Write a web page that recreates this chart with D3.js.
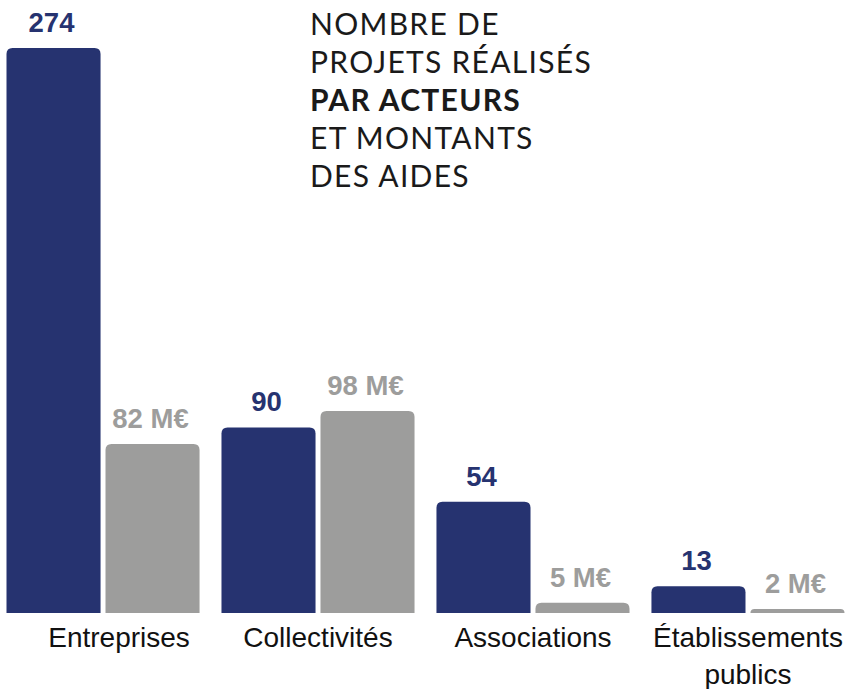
<!DOCTYPE html>
<html>
<head>
<meta charset="utf-8">
<script src="https://cdn.jsdelivr.net/npm/d3@7"></script>
<style>
  body { margin: 0; background: #fff; }
  svg { display: block; }
</style>
</head>
<body>
<div id="chart"></div>
<script>
const categories = ["Entreprises", "Collectivités", "Associations", "Établissements\npublics"];
const projets = [274, 90, 54, 13];
const montants = [82, 98, 5, 2];
const titleLines = [
  { text: "NOMBRE DE", bold: false },
  { text: "PROJETS RÉALISÉS", bold: false },
  { text: "PAR ACTEURS", bold: true },
  { text: "ET MONTANTS", bold: false },
  { text: "DES AIDES", bold: false }
];

const width = 846, height = 689;
const navy = "#263370", grey = "#9d9d9c";
const baseY = 613, topY = 48;

const svg = d3.select("#chart").append("svg")
  .attr("width", width).attr("height", height);

const x = d3.scaleBand().domain(categories).range([6.5, 844.5]).paddingInner(0.102);
const xs = d3.scaleBand().domain(["projets", "montants"]).range([0, x.bandwidth()]).paddingInner(0.05);
const y = d3.scaleLinear().domain([0, d3.max(projets)]).range([baseY, topY]);

const rows = [];
categories.forEach((c, i) => {
  rows.push({ cat: c, key: "projets", v: projets[i], label: String(projets[i]), color: navy });
  rows.push({ cat: c, key: "montants", v: montants[i], label: montants[i] + " M€", color: grey });
});

function topRounded(x0, y0, w, h, r) {
  r = Math.min(r, h, w / 2);
  return `M${x0},${y0 + h}V${y0 + r}Q${x0},${y0} ${x0 + r},${y0}H${x0 + w - r}Q${x0 + w},${y0} ${x0 + w},${y0 + r}V${y0 + h}Z`;
}

svg.append("g").selectAll("path")
  .data(rows)
  .join("path")
  .attr("fill", d => d.color)
  .attr("d", d => topRounded(x(d.cat) + xs(d.key), y(d.v), xs.bandwidth(), baseY - y(d.v), 6));

svg.append("g").selectAll("text")
  .data(rows)
  .join("text")
  .attr("x", d => x(d.cat) + xs(d.key) + xs.bandwidth() / 2 - 2)
  .attr("y", d => y(d.v) - 16)
  .attr("text-anchor", "middle")
  .attr("font-family", "Liberation Sans, Arial, sans-serif")
  .attr("font-weight", "bold")
  .attr("font-size", 27.5)
  .attr("fill", d => d.color)
  .text(d => d.label);

// category labels (the first one sits a bit right of its group in the original)
const labelShift = [16, 0, 0, 0];
const cat = svg.append("g").selectAll("text")
  .data(categories)
  .join("text")
  .attr("x", (d, i) => x(d) + x.bandwidth() / 2 + labelShift[i])
  .attr("y", 647)
  .attr("text-anchor", "middle")
  .attr("font-family", "Liberation Sans, Arial, sans-serif")
  .attr("font-size", 28)
  .attr("fill", "#111");
cat.selectAll("tspan")
  .data(d => d.split("\n"))
  .join("tspan")
  .attr("x", function() { return this.parentNode.getAttribute("x"); })
  .attr("dy", (d, i) => i ? 37 : 0)
  .text(d => d);

svg.append("g").selectAll("text")
  .data(titleLines)
  .join("text")
  .attr("x", 310)
  .attr("y", (d, i) => 35 + i * 38)
  .attr("font-family", "Lato, sans-serif")
  .attr("font-size", 30)
  .attr("font-weight", d => d.bold ? 700 : 400)
  .attr("letter-spacing", 1.3)
  .attr("fill", "#1a1a1a")
  .text(d => d.text);
</script>
</body>
</html>
